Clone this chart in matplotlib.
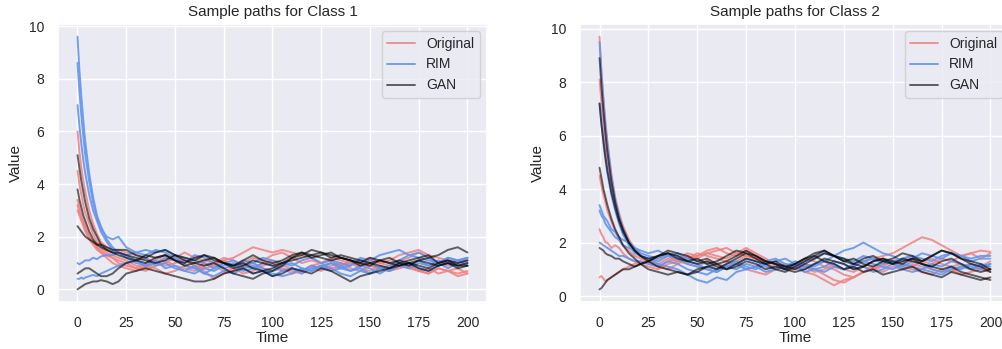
import matplotlib
matplotlib.use("Agg")
import matplotlib.pyplot as plt
import seaborn as sns

sns.set_theme(style="darkgrid")
plt.rcParams['font.family'] = ['Liberation Sans', 'DejaVu Sans']

time = [0, 1, 2, 3, 4, 6, 8, 10, 12, 15, 18, 21,
        25, 30, 35, 40, 45, 50, 55, 60, 65, 70, 75, 80, 85, 90, 95, 100,
        105, 110, 115, 120, 125, 130, 135, 140, 145, 150, 155, 160, 165, 170,
        175, 180, 185, 190, 195, 200]

series_names = ["Original", "RIM", "GAN"]
titles = ["Sample paths for Class 1", "Sample paths for Class 2"]

# ---------------- Class 1 ----------------
c1_original = [
    [6.0, 5.2, 4.6, 4.1, 3.7, 3.0, 2.5, 2.1, 1.8, 1.6, 1.5, 1.5,
     1.4, 1.3, 1.2, 1.0, 0.9, 1.0, 1.1, 0.9, 0.8, 0.9, 1.1, 1.2, 1.4, 1.6, 1.5, 1.4,
     1.5, 1.4, 1.3, 1.2, 1.0, 1.1, 0.9, 1.0, 1.1, 1.2, 1.0, 1.1, 1.3, 1.4,
     1.5, 1.3, 1.2, 1.1, 1.0, 1.1],
    [4.5, 4.0, 3.6, 3.2, 2.9, 2.5, 2.1, 1.8, 1.6, 1.4, 1.3, 1.2,
     1.1, 0.9, 0.8, 1.0, 1.1, 0.9, 0.8, 0.7, 0.9, 1.0, 1.2, 1.1, 0.9, 1.0, 0.8, 0.7,
     0.8, 0.6, 0.7, 0.9, 0.8, 0.7, 0.9, 1.0, 0.8, 0.7, 0.9, 0.8, 1.0, 0.9,
     0.7, 0.8, 0.6, 0.7, 0.8, 0.6],
    [3.4, 3.1, 2.8, 2.6, 2.4, 2.0, 1.8, 1.6, 1.4, 1.3, 1.2, 1.1,
     1.0, 0.8, 0.7, 0.9, 1.0, 1.2, 1.1, 0.9, 0.7, 0.4, 0.6, 0.7, 0.9, 0.8, 1.0, 1.1,
     0.9, 0.8, 0.7, 0.9, 1.0, 0.8, 0.9, 1.1, 1.0, 0.9, 0.8, 0.7, 0.8, 0.9,
     0.7, 0.6, 0.8, 0.7, 0.6, 0.7],
    [3.2, 2.9, 2.7, 2.5, 2.3, 2.0, 1.8, 1.6, 1.5, 1.3, 1.2, 1.0,
     0.9, 0.8, 1.0, 1.1, 1.3, 1.2, 1.4, 1.2, 1.1, 1.0, 1.1, 0.9, 1.0, 1.2, 1.1, 1.3,
     1.4, 1.2, 1.0, 1.1, 1.0, 1.2, 1.1, 1.0, 0.9, 1.1, 1.0, 0.9, 1.1, 1.2,
     1.4, 1.2, 1.0, 0.9, 1.0, 1.2],
    [3.0, 2.8, 2.6, 2.4, 2.2, 1.9, 1.7, 1.5, 1.4, 1.2, 1.0, 0.9,
     0.8, 0.7, 0.9, 0.8, 0.6, 0.7, 0.9, 0.8, 1.0, 0.9, 0.7, 0.8, 0.6, 0.7, 0.9, 1.0,
     0.8, 0.7, 0.6, 0.8, 0.7, 0.9, 1.0, 0.8, 0.7, 0.9, 0.8, 0.7, 0.9, 0.8,
     0.7, 0.6, 0.8, 0.7, 0.5, 0.6],
]
c1_rim = [
    [9.6, 8.3, 7.3, 6.4, 5.6, 4.4, 3.5, 2.8, 2.4, 1.9, 1.6, 1.4,
     1.3, 1.1, 1.2, 0.9, 1.0, 0.8, 0.7, 0.9, 0.6, 0.8, 1.0, 0.9, 0.7, 0.8, 1.0, 0.9,
     0.7, 0.8, 0.6, 0.8, 0.9, 0.7, 0.8, 0.7, 0.9, 0.8, 0.6, 0.8, 1.0, 0.9,
     1.1, 0.9, 1.0, 0.8, 1.0, 1.1],
    [8.6, 7.5, 6.6, 5.8, 5.1, 4.1, 3.3, 2.7, 2.3, 2.0, 1.9, 2.0,
     1.6, 1.4, 1.3, 1.5, 1.4, 1.2, 1.0, 1.3, 1.2, 1.0, 0.8, 0.9, 1.1, 1.0, 0.8, 0.7,
     0.9, 1.0, 0.8, 0.7, 0.9, 1.0, 0.8, 0.9, 1.1, 1.0, 0.8, 0.9, 1.1, 1.3,
     1.4, 1.2, 1.0, 1.2, 1.1, 1.2],
    [7.0, 6.2, 5.5, 4.9, 4.4, 3.6, 3.0, 2.6, 2.2, 1.8, 1.5, 1.4,
     1.2, 1.0, 0.9, 1.1, 0.8, 0.9, 0.7, 0.6, 0.8, 0.7, 0.9, 1.0, 0.8, 0.6, 0.7, 0.5,
     0.7, 0.8, 0.7, 0.9, 0.8, 1.0, 0.9, 0.7, 0.8, 0.6, 0.8, 0.7, 0.9, 1.0,
     0.8, 0.7, 0.9, 1.0, 1.1, 0.9],
    [1.0, 0.95, 1.0, 1.05, 1.1, 1.1, 1.2, 1.15, 1.25, 1.3, 1.3, 1.4,
     1.3, 1.4, 1.5, 1.4, 1.5, 1.3, 1.2, 1.1, 1.0, 0.8, 1.0, 1.1, 0.9, 1.0, 1.2, 1.1,
     1.0, 0.9, 1.1, 1.2, 1.0, 1.1, 1.0, 0.9, 1.2, 1.1, 1.3, 1.4, 1.5, 1.3,
     1.2, 1.1, 1.0, 1.2, 1.1, 1.2],
    [0.4, 0.4, 0.45, 0.4, 0.45, 0.5, 0.55, 0.5, 0.6, 0.7, 0.8, 0.9,
     1.0, 1.1, 0.9, 1.0, 1.2, 1.1, 0.9, 0.8, 0.6, 0.5, 0.7, 0.6, 0.8, 0.9, 0.7, 0.6,
     0.5, 0.6, 0.8, 0.7, 0.9, 0.8, 0.6, 0.5, 0.7, 0.6, 0.8, 0.7, 0.9, 0.8,
     1.0, 0.9, 1.1, 1.0, 0.9, 1.0],
]
c1_gan = [
    [5.1, 4.6, 4.1, 3.7, 3.3, 2.7, 2.3, 2.0, 1.7, 1.5, 1.4, 1.3,
     1.2, 1.1, 1.0, 1.2, 1.3, 1.1, 1.0, 1.2, 1.3, 1.1, 1.0, 0.8, 0.9, 1.1, 1.0, 0.9,
     1.0, 1.2, 1.4, 1.3, 1.2, 1.1, 1.2, 1.1, 1.0, 0.9, 1.1, 1.0, 0.9, 1.0,
     1.1, 1.0, 0.9, 1.0, 0.9, 1.0],
    [3.8, 3.4, 3.1, 2.8, 2.6, 2.2, 1.9, 1.7, 1.6, 1.5, 1.4, 1.4,
     1.3, 1.2, 1.1, 1.0, 1.1, 1.3, 1.2, 1.1, 1.3, 1.2, 1.0, 0.9, 1.0, 0.8, 0.7, 0.8,
     1.0, 1.1, 1.2, 1.3, 1.4, 1.2, 1.3, 1.2, 1.1, 1.0, 0.9, 0.8, 1.0, 1.1,
     1.2, 1.3, 1.0, 1.1, 1.0, 1.1],
    [2.4, 2.3, 2.2, 2.1, 2.0, 1.9, 1.8, 1.7, 1.7, 1.6, 1.5, 1.5,
     1.5, 1.3, 1.2, 1.4, 1.5, 1.3, 1.1, 1.0, 0.9, 1.0, 0.8, 0.6, 0.5, 0.4, 0.6, 0.7,
     0.9, 1.2, 1.3, 1.5, 1.4, 1.3, 1.2, 1.1, 0.9, 1.0, 1.1, 1.2, 1.0, 0.9,
     1.1, 1.2, 1.3, 1.5, 1.6, 1.4],
    [0.6, 0.65, 0.7, 0.75, 0.8, 0.8, 0.7, 0.6, 0.5, 0.5, 0.6, 0.8,
     1.0, 1.1, 1.3, 1.2, 1.3, 1.1, 0.9, 1.0, 1.1, 1.2, 1.0, 0.9, 1.1, 1.3, 1.1, 1.0,
     1.1, 1.3, 1.4, 1.2, 1.3, 1.4, 1.2, 1.1, 1.0, 1.2, 1.1, 1.0, 1.1, 1.0,
     0.9, 0.8, 1.0, 1.1, 0.9, 0.9],
    [0.0, 0.05, 0.1, 0.15, 0.2, 0.25, 0.3, 0.3, 0.35, 0.3, 0.2, 0.3,
     0.6, 0.7, 0.8, 0.7, 0.6, 0.5, 0.4, 0.3, 0.3, 0.4, 0.6, 0.7, 0.8, 0.6, 0.7, 0.5,
     0.6, 0.8, 0.7, 0.6, 0.8, 0.7, 0.5, 0.3, 0.5, 0.6, 0.7, 0.8, 0.9, 1.0,
     0.8, 0.7, 0.9, 1.0, 0.8, 0.9],
]

# ---------------- Class 2 ----------------
c2_original = [
    [9.7, 8.4, 7.4, 6.5, 5.8, 4.6, 3.7, 3.1, 2.6, 2.1, 1.7, 1.5,
     1.3, 1.2, 1.4, 1.3, 1.5, 1.4, 1.6, 1.7, 1.8, 1.6, 1.5, 1.4, 1.3, 1.2, 1.1, 1.0,
     1.1, 1.2, 1.3, 1.1, 1.0, 1.2, 1.3, 1.4, 1.5, 1.6, 1.8, 2.0, 2.2, 2.1,
     1.9, 1.7, 1.5, 1.6, 1.7, 1.65],
    [8.1, 7.2, 6.4, 5.7, 5.1, 4.2, 3.5, 3.0, 2.6, 2.1, 1.8, 1.5,
     1.3, 1.1, 1.0, 1.2, 1.4, 1.5, 1.6, 1.5, 1.4, 1.6, 1.8, 1.6, 1.4, 1.2, 1.1, 1.0,
     1.2, 1.0, 0.8, 0.6, 0.5, 0.7, 0.9, 1.0, 0.9, 1.1, 1.0, 1.2, 1.1, 1.0,
     0.9, 1.0, 0.8, 0.9, 1.0, 0.9],
    [4.5, 4.1, 3.8, 3.5, 3.2, 2.8, 2.4, 2.1, 1.9, 1.7, 1.5, 1.4,
     1.3, 1.4, 1.5, 1.3, 1.4, 1.6, 1.5, 1.4, 1.3, 1.2, 1.0, 0.9, 0.8, 1.0, 1.1, 1.2,
     1.4, 1.3, 1.1, 1.0, 0.8, 0.7, 0.9, 1.1, 1.2, 1.3, 1.2, 1.1, 1.3, 1.4,
     1.2, 1.1, 1.2, 1.0, 1.1, 1.0],
    [2.5, 2.3, 2.2, 2.0, 2.0, 1.8, 1.9, 1.8, 1.6, 1.4, 1.3, 1.2,
     1.1, 1.0, 1.2, 1.3, 1.2, 1.1, 1.3, 1.2, 1.1, 1.3, 1.5, 1.4, 1.2, 1.1, 1.0, 1.2,
     1.1, 0.9, 1.0, 1.2, 1.0, 0.9, 1.1, 1.0, 1.2, 1.3, 1.1, 1.0, 0.9, 0.8,
     1.0, 0.9, 1.1, 1.2, 1.1, 1.3],
    [0.7, 0.75, 0.65, 0.55, 0.6, 0.7, 0.8, 0.9, 1.0, 1.1, 1.2, 1.3,
     1.2, 1.1, 1.3, 1.4, 1.6, 1.5, 1.7, 1.8, 1.6, 1.5, 1.7, 1.5, 1.3, 1.2, 1.0, 1.1,
     0.9, 0.8, 0.6, 0.4, 0.6, 0.7, 0.9, 1.0, 1.1, 1.3, 1.4, 1.5, 1.3, 1.2,
     1.4, 1.3, 1.5, 1.6, 1.4, 1.6],
]
c2_rim = [
    [9.5, 8.3, 7.3, 6.4, 5.7, 4.5, 3.6, 3.0, 2.5, 2.0, 1.8, 1.6,
     1.5, 1.4, 1.6, 1.5, 1.3, 1.2, 1.0, 0.9, 1.1, 1.2, 1.0, 1.1, 1.3, 1.2, 1.0, 1.1,
     1.3, 1.4, 1.6, 1.5, 1.7, 1.8, 2.0, 1.8, 1.6, 1.5, 1.3, 1.4, 1.6, 1.5,
     1.4, 1.6, 1.5, 1.3, 1.4, 1.4],
    [7.2, 6.4, 5.7, 5.1, 4.6, 3.8, 3.2, 2.7, 2.3, 1.9, 1.6, 1.5,
     1.4, 1.2, 1.1, 1.0, 0.8, 0.6, 0.5, 0.7, 0.6, 0.9, 1.0, 1.1, 0.9, 1.0, 1.2, 1.1,
     0.9, 1.0, 1.1, 1.3, 1.2, 1.0, 1.1, 0.9, 1.0, 1.2, 1.1, 1.3, 1.2, 1.0,
     0.9, 1.1, 1.0, 1.2, 1.1, 1.2],
    [3.4, 3.2, 3.0, 2.9, 2.8, 2.5, 2.4, 2.2, 2.1, 2.0, 1.8, 1.7,
     1.6, 1.7, 1.5, 1.4, 1.2, 1.1, 1.0, 0.9, 1.1, 1.0, 1.2, 1.1, 1.3, 1.4, 1.2, 1.1,
     1.0, 1.2, 1.3, 1.5, 1.4, 1.3, 1.5, 1.4, 1.2, 1.3, 1.4, 1.5, 1.4, 1.3,
     1.5, 1.6, 1.5, 1.4, 1.5, 1.5],
    [3.2, 3.0, 2.9, 2.7, 2.6, 2.4, 2.2, 2.1, 1.9, 1.8, 1.7, 1.5,
     1.4, 1.3, 1.5, 1.6, 1.4, 1.3, 1.2, 1.0, 1.2, 1.3, 1.1, 1.0, 1.2, 1.3, 1.4, 1.2,
     1.1, 1.0, 0.9, 1.1, 1.0, 1.2, 1.3, 1.2, 1.1, 1.0, 1.2, 1.1, 1.0, 0.9,
     0.8, 1.0, 1.1, 1.0, 1.2, 1.1],
    [2.0, 1.95, 1.9, 1.85, 1.8, 1.7, 1.6, 1.5, 1.5, 1.4, 1.3, 1.3,
     1.2, 1.1, 1.3, 1.2, 1.0, 0.9, 0.8, 1.0, 1.1, 1.2, 1.4, 1.3, 1.1, 1.0, 1.1, 1.3,
     1.2, 1.1, 1.3, 1.2, 1.0, 1.1, 1.3, 1.4, 1.3, 1.2, 1.0, 0.9, 1.0, 1.2,
     1.1, 1.3, 1.2, 1.1, 1.0, 1.2],
]
c2_gan = [
    [8.9, 7.8, 6.9, 6.1, 5.4, 4.3, 3.5, 2.9, 2.5, 2.0, 1.7, 1.5,
     1.3, 1.1, 1.0, 0.9, 0.8, 0.9, 1.1, 1.0, 1.2, 1.4, 1.6, 1.5, 1.3, 1.2, 1.1, 1.0,
     1.2, 1.4, 1.6, 1.5, 1.4, 1.2, 1.1, 1.3, 1.4, 1.2, 1.3, 1.4, 1.2, 1.1,
     1.3, 1.4, 1.2, 1.0, 0.9, 1.0],
    [7.2, 6.4, 5.8, 5.2, 4.7, 3.9, 3.3, 2.8, 2.4, 2.0, 1.7, 1.5,
     1.4, 1.5, 1.7, 1.6, 1.5, 1.3, 1.4, 1.2, 1.3, 1.5, 1.7, 1.5, 1.3, 1.2, 1.0, 0.9,
     1.0, 1.2, 1.4, 1.3, 1.2, 1.0, 1.1, 1.3, 1.4, 1.3, 1.2, 1.4, 1.3, 1.5,
     1.7, 1.6, 1.4, 1.3, 1.2, 1.0],
    [4.8, 4.4, 4.0, 3.7, 3.4, 2.9, 2.5, 2.2, 1.9, 1.6, 1.4, 1.2,
     1.0, 0.9, 0.8, 0.9, 0.8, 1.0, 1.1, 1.2, 1.0, 1.1, 1.3, 1.2, 1.0, 1.1, 1.0, 1.2,
     1.4, 1.5, 1.3, 1.2, 1.0, 1.1, 0.9, 1.0, 0.8, 0.9, 1.0, 1.1, 0.9, 0.8,
     0.7, 0.9, 0.8, 0.7, 0.6, 0.7],
    [1.8, 1.75, 1.7, 1.6, 1.55, 1.5, 1.4, 1.4, 1.3, 1.2, 1.1, 1.2,
     1.3, 1.5, 1.6, 1.4, 1.3, 1.2, 1.3, 1.1, 1.0, 1.2, 1.4, 1.3, 1.2, 1.0, 0.9, 1.1,
     1.3, 1.5, 1.7, 1.5, 1.3, 1.4, 1.2, 1.1, 1.3, 1.2, 1.4, 1.3, 1.2, 1.1,
     1.0, 1.1, 0.9, 0.8, 0.7, 0.6],
    [0.25, 0.3, 0.4, 0.5, 0.6, 0.7, 0.8, 0.9, 1.0, 1.0, 1.1, 1.2,
     1.3, 1.5, 1.6, 1.5, 1.3, 1.4, 1.2, 1.3, 1.5, 1.7, 1.6, 1.4, 1.2, 1.3, 1.1, 1.2,
     1.4, 1.6, 1.7, 1.5, 1.3, 1.2, 1.4, 1.5, 1.3, 1.4, 1.6, 1.5, 1.3, 1.5,
     1.7, 1.6, 1.4, 1.2, 1.1, 0.9],
]

panels = [
    [c1_original, c1_rim, c1_gan],
    [c2_original, c2_rim, c2_gan],
]
colors = ["#F08080", "#6495ED", "black"]
alphas = [0.85, 0.9, 0.6]

fig = plt.figure(figsize=(10.03, 3.49), dpi=100)
W, H = 1003.0, 349.0
ax_rects = [
    [58 / W, 47 / H, 429 / W, 278 / H],
    [580 / W, 47 / H, 430 / W, 278 / H],
]

for rect, groups, title in zip(ax_rects, panels, titles):
    ax = fig.add_axes(rect)
    for name, lines, col, a in zip(series_names, groups, colors, alphas):
        for i, vals in enumerate(lines):
            ax.plot(time, vals, color=col, alpha=a, lw=1.4,
                    label=name if i == 0 else None)
    ax.set_title(title, fontsize=11, color=".15")
    ax.set_xlabel("Time", fontsize=11, labelpad=1)
    ax.set_ylabel("Value", fontsize=11)
    ax.set_xticks([0, 25, 50, 75, 100, 125, 150, 175, 200])
    ax.set_yticks([0, 2, 4, 6, 8, 10])
    ax.tick_params(labelsize=10, pad=4)
    leg = ax.legend(loc="upper right", fontsize=10)

fig.savefig("out.png", dpi=100)
